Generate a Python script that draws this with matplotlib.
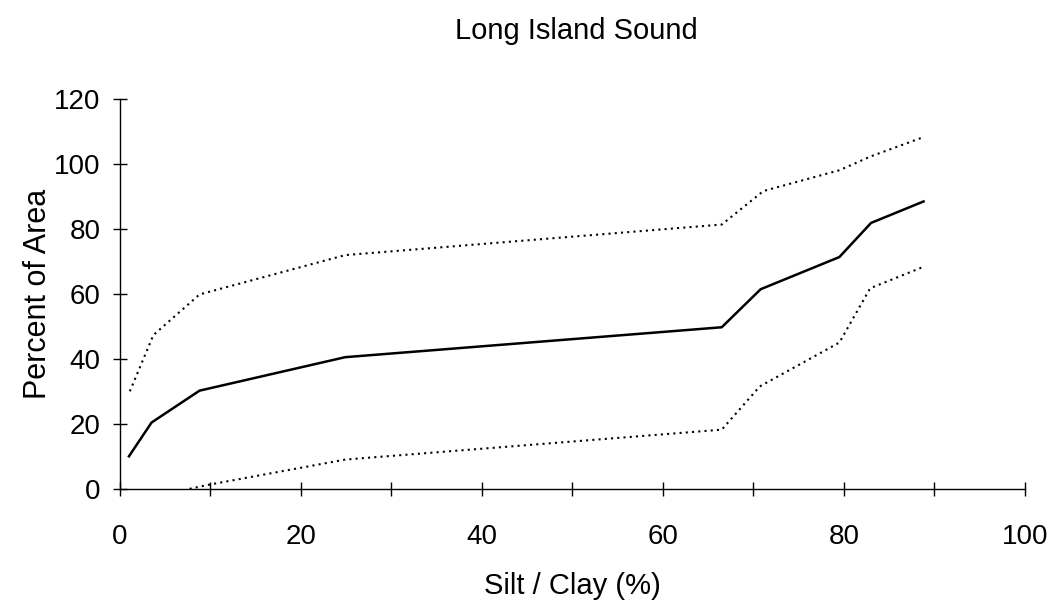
import matplotlib
matplotlib.use('Agg')
import matplotlib.pyplot as plt

plt.rcParams['font.family'] = ['Liberation Sans', 'DejaVu Sans']

# median and bounds
mid_x = [1.0, 3.5, 8.8, 24.9, 66.5, 70.8, 79.5, 83.0, 88.8]
mid_y = [10.0, 20.4, 30.2, 40.5, 49.7, 61.4, 71.3, 81.8, 88.4]

upper_x = [1.1, 3.7, 8.8, 24.9, 66.5, 71.1, 79.5, 83.0, 88.8]
upper_y = [30.0, 47.3, 59.8, 71.9, 81.3, 91.6, 98.0, 102.3, 108.2]

lower_x = [7.7, 9.9, 24.9, 66.5, 70.7, 79.5, 82.9, 88.8]
lower_y = [0.0, 1.3, 9.0, 18.2, 31.5, 45.0, 61.7, 68.3]

fig = plt.figure(figsize=(10.61, 6.02), dpi=100)
ax = fig.add_axes([0.113, 0.188, 0.853, 0.648])

ax.plot(mid_x, mid_y, color='black', lw=1.8)
ax.plot(upper_x, upper_y, color='black', lw=1.5, linestyle=(0, (1, 2.0)))
ax.plot(lower_x, lower_y, color='black', lw=1.5, linestyle=(0, (1, 2.0)))

ax.set_xlim(0, 100)
ax.set_ylim(0, 120)
ax.set_xticks(range(0, 101, 20))
ax.set_xticks(range(0, 101, 10), minor=True)
ax.set_yticks(range(0, 121, 20))

for side in ['top', 'right']:
    ax.spines[side].set_visible(False)
for side in ['left', 'bottom']:
    ax.spines[side].set_linewidth(1.0)

ax.tick_params(axis='both', which='both', direction='inout', length=10, width=1, labelsize=20)
ax.tick_params(axis='x', pad=20)
ax.tick_params(axis='y', pad=9)

ax.set_xlabel('Silt / Clay (%)', fontsize=21, labelpad=16)
ax.set_ylabel('Percent of Area', fontsize=22, labelpad=1)
fig.text(0.543, 0.948, 'Long Island Sound', ha='center', va='center', fontsize=21)

fig.savefig('out.png', dpi=100)
